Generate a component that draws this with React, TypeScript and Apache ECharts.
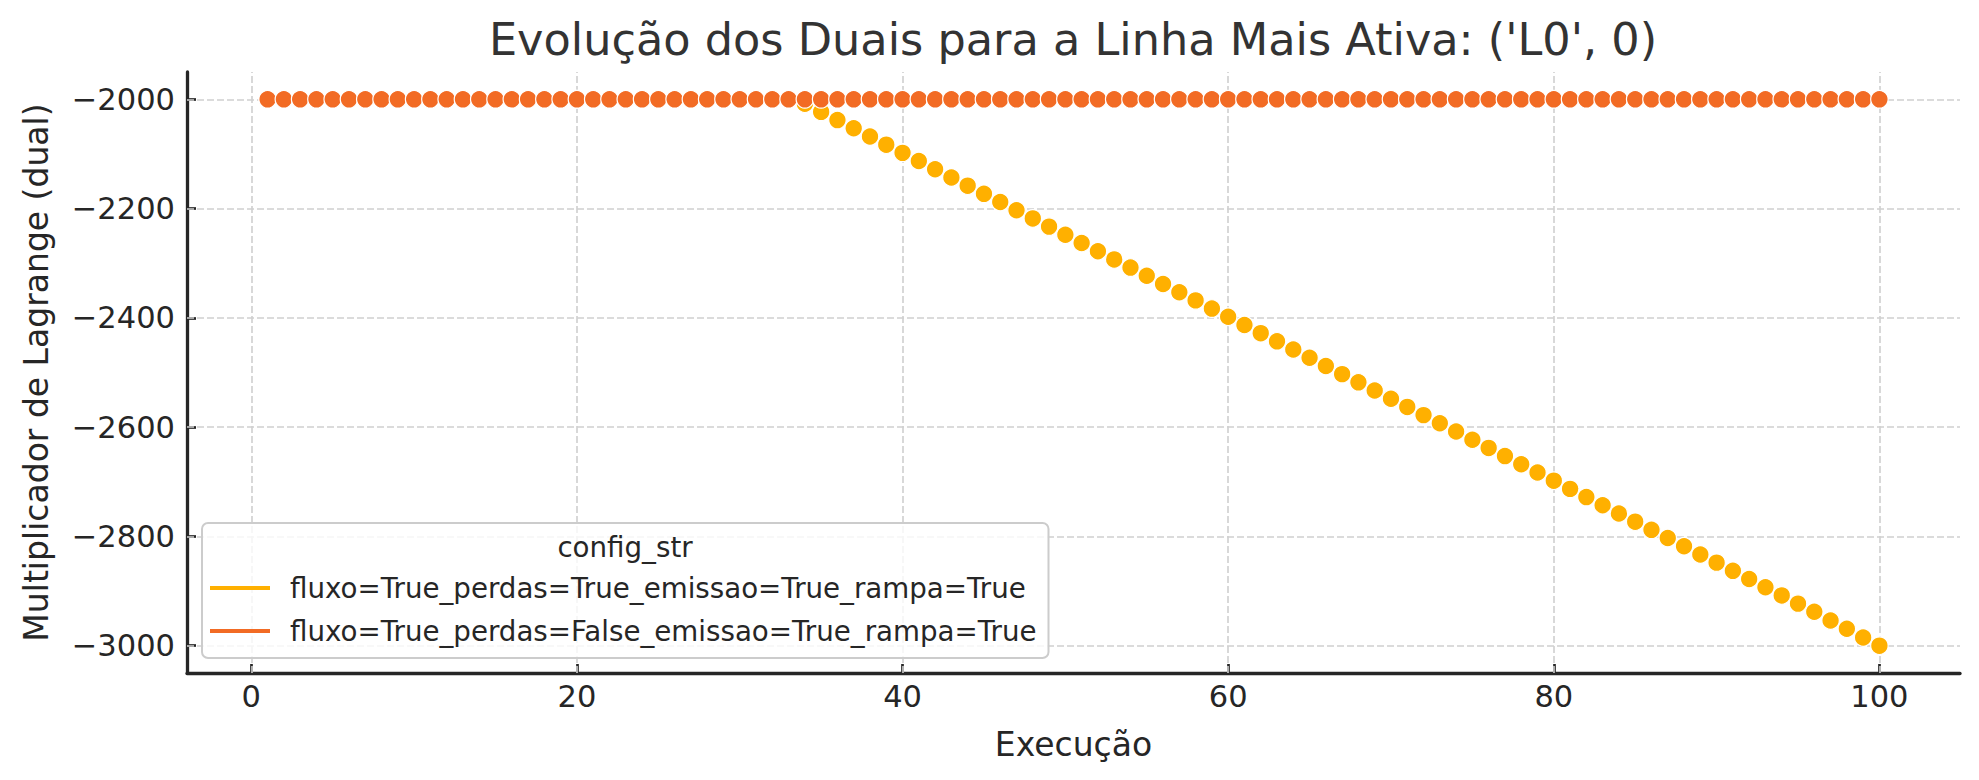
import React, { useEffect, useRef } from "react";
import * as echarts from "echarts";

const chartTitle = "Evolução dos Duais para a Linha Mais Ativa: ('L0', 0)";
const xAxisName = "Execução";
const yAxisName = "Multiplicador de Lagrange (dual)";
const legendTitle = "config_str";
const seriesNames = [
  "fluxo=True_perdas=True_emissao=True_rampa=True",
  "fluxo=True_perdas=False_emissao=True_rampa=True",
];
const seriesColors = ["#ffb000", "#f26b24"];

const execucao = [
  1, 2, 3, 4, 5, 6, 7, 8, 9, 10, 11, 12, 13, 14, 15, 16, 17, 18, 19, 20,
  21, 22, 23, 24, 25, 26, 27, 28, 29, 30, 31, 32, 33, 34, 35, 36, 37, 38, 39, 40,
  41, 42, 43, 44, 45, 46, 47, 48, 49, 50, 51, 52, 53, 54, 55, 56, 57, 58, 59, 60,
  61, 62, 63, 64, 65, 66, 67, 68, 69, 70, 71, 72, 73, 74, 75, 76, 77, 78, 79, 80,
  81, 82, 83, 84, 85, 86, 87, 88, 89, 90, 91, 92, 93, 94, 95, 96, 97, 98, 99, 100,
];

const dualPerdasTrue = [
  -2000, -2000, -2000, -2000, -2000, -2000, -2000, -2000, -2000, -2000,
  -2000, -2000, -2000, -2000, -2000, -2000, -2000, -2000, -2000, -2000,
  -2000, -2000, -2000, -2000, -2000, -2000, -2000, -2000, -2000, -2000,
  -2000, -2000, -2000,
  -2008, -2023, -2038, -2053, -2068, -2083, -2098, -2113, -2128, -2143,
  -2158, -2173, -2188, -2203, -2218, -2233, -2248, -2263, -2278, -2293,
  -2308, -2323, -2338, -2353, -2368, -2383, -2398, -2413, -2428, -2443,
  -2458, -2473, -2488, -2503, -2518, -2533, -2548, -2563, -2578, -2593,
  -2608, -2623, -2638, -2653, -2668, -2683, -2698, -2713, -2728, -2743,
  -2758, -2773, -2788, -2803, -2818, -2833, -2848, -2863, -2878, -2893,
  -2908, -2923, -2938, -2954, -2969, -2985, -3000,
];

const dualPerdasFalse = [
  -2000, -2000, -2000, -2000, -2000, -2000, -2000, -2000, -2000, -2000,
  -2000, -2000, -2000, -2000, -2000, -2000, -2000, -2000, -2000, -2000,
  -2000, -2000, -2000, -2000, -2000, -2000, -2000, -2000, -2000, -2000,
  -2000, -2000, -2000, -2000, -2000, -2000, -2000, -2000, -2000, -2000,
  -2000, -2000, -2000, -2000, -2000, -2000, -2000, -2000, -2000, -2000,
  -2000, -2000, -2000, -2000, -2000, -2000, -2000, -2000, -2000, -2000,
  -2000, -2000, -2000, -2000, -2000, -2000, -2000, -2000, -2000, -2000,
  -2000, -2000, -2000, -2000, -2000, -2000, -2000, -2000, -2000, -2000,
  -2000, -2000, -2000, -2000, -2000, -2000, -2000, -2000, -2000, -2000,
  -2000, -2000, -2000, -2000, -2000, -2000, -2000, -2000, -2000, -2000,
];

const xTicks = [0, 20, 40, 60, 80, 100];
const yTicks = [-3000, -2800, -2600, -2400, -2200, -2000];

const FONT = "DejaVu Sans";
const TEXT = "#262626";

function fmt(v: number | string) {
  return String(v).replace("-", "\u2212");
}

export default function App() {
  const ref = useRef<HTMLDivElement>(null);

  useEffect(() => {
    if (!ref.current) return;
    const chart = echarts.init(ref.current, null, { renderer: "svg" });

    const gridLines = [
      ...xTicks.map((v) => ({ xAxis: v })),
      ...yTicks.map((v) => ({ yAxis: v })),
    ];

    const option: any = {
      animation: false,
      backgroundColor: "#ffffff",
      textStyle: { fontFamily: FONT },
      grid: { left: 187, right: 19, top: 72, bottom: 107, containLabel: false },
      xAxis: {
        type: "value",
        min: -3.95,
        max: 104.95,
        name: xAxisName,
        nameLocation: "middle",
        nameGap: 55,
        nameTextStyle: { fontFamily: FONT, fontSize: 33, color: TEXT },
        axisLine: { show: true, onZero: false, lineStyle: { color: TEXT, width: 3.3 } },
        axisTick: { show: true, inside: true, length: 9, customValues: xTicks, lineStyle: { color: TEXT, width: 2.7 } },
        axisLabel: { show: true, margin: 8, customValues: xTicks, fontFamily: FONT, fontSize: 30.5, color: TEXT, formatter: fmt },
        splitLine: { show: false },
      },
      yAxis: {
        type: "value",
        min: -3050,
        max: -1950,
        name: yAxisName,
        nameLocation: "middle",
        nameRotate: 90,
        nameGap: 134,
        nameTextStyle: { fontFamily: FONT, fontSize: 33, color: TEXT },
        axisLine: { show: true, onZero: false, lineStyle: { color: TEXT, width: 3.3 } },
        axisTick: { show: true, inside: true, length: 9, customValues: yTicks, lineStyle: { color: TEXT, width: 2.7 } },
        axisLabel: { show: true, margin: 12, customValues: yTicks, fontFamily: FONT, fontSize: 30.5, color: TEXT, formatter: fmt },
        splitLine: { show: false },
      },
      legend: {
        show: true,
        orient: "vertical",
        left: 202,
        top: 523,
        padding: [50, 12, 12, 8],
        itemWidth: 60,
        itemHeight: 4,
        itemGap: 13,
        icon: "rect",
        data: seriesNames,
        backgroundColor: "rgba(255,255,255,0.8)",
        borderColor: "#cccccc",
        borderWidth: 2,
        borderRadius: 6,
        itemStyle: { borderWidth: 0 },
        textStyle: { fontFamily: FONT, fontSize: 27.7, lineHeight: 30, color: TEXT, padding: [0, 0, 0, 15] },
      },
      graphic: [
        {
          type: "text",
          x: 1073,
          y: 39.5,
          z: 100,
          style: {
            text: chartTitle,
            font: `44.6px "${FONT}"`,
            fill: "#333333",
            textAlign: "center",
            textVerticalAlign: "middle",
          },
        },
        {
          type: "text",
          x: 625,
          y: 547,
          z: 100,
          style: {
            text: legendTitle,
            font: `27.7px "${FONT}"`,
            fill: TEXT,
            textAlign: "center",
            textVerticalAlign: "middle",
          },
        },
      ],
      series: [
        {
          name: seriesNames[0],
          type: "scatter",
          z: 2,
          symbol: "circle",
          symbolSize: 17.5,
          itemStyle: { color: seriesColors[0], borderColor: "#ffffff", borderWidth: 1.2, opacity: 1 },
          data: execucao.map((x, i) => [x, dualPerdasTrue[i]]),
          markLine: {
            silent: true,
            z: 1,
            symbol: ["none", "none"],
            label: { show: false },
            emphasis: { disabled: true },
            lineStyle: { type: [7, 3], color: "#cfcfcf", width: 1.6 },
            data: gridLines,
          },
        },
        {
          name: seriesNames[1],
          type: "scatter",
          z: 3,
          symbol: "circle",
          symbolSize: 17.5,
          itemStyle: { color: seriesColors[1], borderColor: "#ffffff", borderWidth: 1.2, opacity: 1 },
          data: execucao.map((x, i) => [x, dualPerdasFalse[i]]),
        },
      ],
    };

    chart.setOption(option);
    return () => chart.dispose();
  }, []);

  return (
    <div
      ref={ref}
      style={{ position: "fixed", left: 0, top: 0, width: 1979, height: 780 }}
    />
  );
}
